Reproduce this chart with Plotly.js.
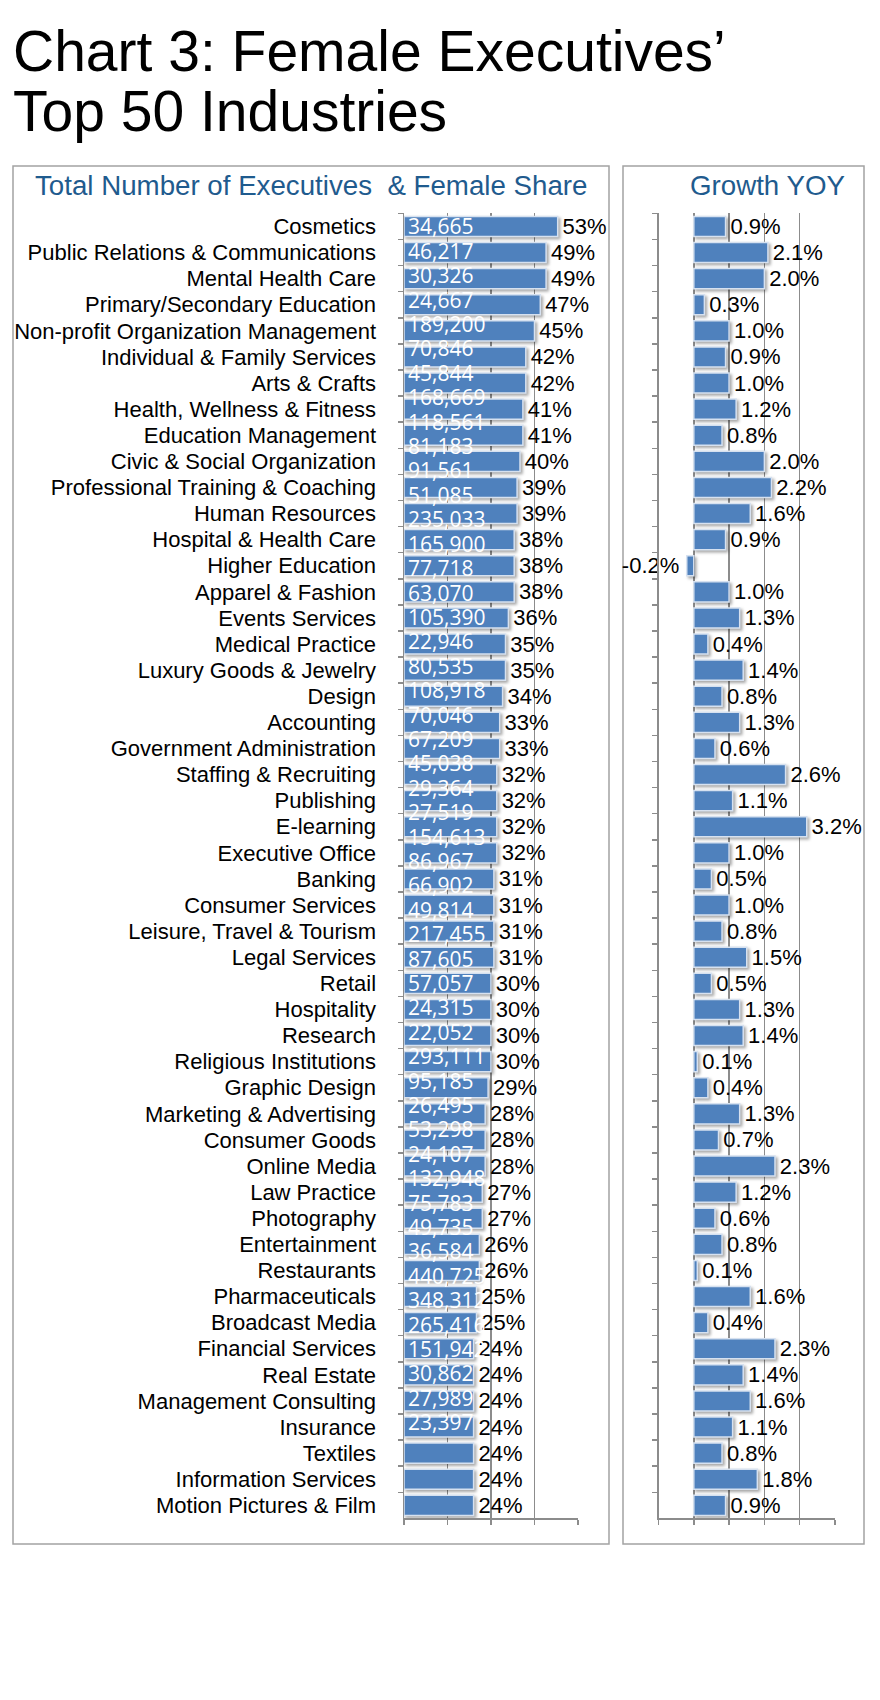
<!DOCTYPE html>
<html>
<head>
<meta charset="utf-8">
<script src="https://cdn.plot.ly/plotly-3.0.1.min.js"></script>
<style>
  html, body { margin: 0; padding: 0; background: #fff; }
  #chart { width: 880px; height: 1700px; }
  .trace.bars .point path { filter: drop-shadow(2px 2px 1.5px rgba(0,0,0,0.35)); }
</style>
</head>
<body>
<div id="chart"></div>
<script>
// ---------------- DATA ----------------
const categories = [
  "Cosmetics", "Public Relations & Communications", "Mental Health Care",
  "Primary/Secondary Education", "Non-profit Organization Management",
  "Individual & Family Services", "Arts & Crafts", "Health, Wellness & Fitness",
  "Education Management", "Civic & Social Organization",
  "Professional Training & Coaching", "Human Resources", "Hospital & Health Care",
  "Higher Education", "Apparel & Fashion", "Events Services", "Medical Practice",
  "Luxury Goods & Jewelry", "Design", "Accounting", "Government Administration",
  "Staffing & Recruiting", "Publishing", "E-learning", "Executive Office",
  "Banking", "Consumer Services", "Leisure, Travel & Tourism", "Legal Services",
  "Retail", "Hospitality", "Research", "Religious Institutions", "Graphic Design",
  "Marketing & Advertising", "Consumer Goods", "Online Media", "Law Practice",
  "Photography", "Entertainment", "Restaurants", "Pharmaceuticals",
  "Broadcast Media", "Financial Services", "Real Estate", "Management Consulting",
  "Insurance", "Textiles", "Information Services", "Motion Pictures & Film"
];

// Female share of executives (%)
const femaleShare = [
  53, 49, 49, 47, 45, 42, 42, 41, 41, 40,
  39, 39, 38, 38, 38, 36, 35, 35, 34, 33,
  33, 32, 32, 32, 32, 31, 31, 31, 31, 30,
  30, 30, 30, 29, 28, 28, 28, 27, 27, 26,
  26, 25, 25, 24, 24, 24, 24, 24, 24, 24
];

// Total number of executives (white labels, as printed in the source)
const totalExecutives = [
  34665, 46217, 30326, 24667, 189200, 70846, 45844, 168669, 118561, 81183,
  91561, 51085, 235033, 165900, 77718, 63070, 105390, 22946, 80535, 108918,
  70046, 67209, 45038, 29364, 27519, 154613, 86967, 66902, 49814, 217455,
  87605, 57057, 24315, 22052, 293111, 95185, 26495, 53298, 24107, 132948,
  75783, 49735, 36584, 440725, 348312, 265416, 151942, 30862, 27989, 23397
];

// Growth YOY (%)
const growthYOY = [
  0.9, 2.1, 2.0, 0.3, 1.0, 0.9, 1.0, 1.2, 0.8, 2.0,
  2.2, 1.6, 0.9, -0.2, 1.0, 1.3, 0.4, 1.4, 0.8, 1.3,
  0.6, 2.6, 1.1, 3.2, 1.0, 0.5, 1.0, 0.8, 1.5, 0.5,
  1.3, 1.4, 0.1, 0.4, 1.3, 0.7, 2.3, 1.2, 0.6, 0.8,
  0.1, 1.6, 0.4, 2.3, 1.4, 1.6, 1.1, 0.8, 1.8, 0.9
];

const chartTitle = ["Chart 3: Female Executives\u2019", "Top 50 Industries"];
const leftPanelTitle = "Total Number of Executives\u00A0 & Female Share";
const rightPanelTitle = "Growth YOY";

// ---------------- LAYOUT HELPERS ----------------
const W = 880, H = 1700;
const px = v => v / W;
const py = v => 1 - v / H;

const FONT = "Liberation Sans, Arial, Helvetica, sans-serif";
const NUMFONT = "Open Sans, Noto Sans, sans-serif";
const GRID = "#8c8c8c";
const BAR = "#4f81bd";
const BAR_EDGE = "#d6e1f0";
const TITLE_BLUE = "#1f5b8e";
const LABEL_SIZE = 22;

const plotTop = 213.4, plotBottom = 1518.4;
const yDomain = [py(plotBottom), py(plotTop)];

// white count labels in the source drift at a slightly tighter pitch than the rows
const labelPitch = 0.935;
const nRows = categories.length;
const y3Top = -0.5 / labelPitch;
const y3Bottom = y3Top + nRows / labelPitch;

const HAIR = "\u200A", THIN = "\u2009";

const traces = [
  {
    type: "bar", orientation: "h",
    x: femaleShare, y: categories,
    xaxis: "x", yaxis: "y",
    width: 0.77,
    marker: { color: BAR, line: { color: BAR_EDGE, width: 1.5 } },
    texttemplate: HAIR + "%{x}%", textposition: "outside",
    textfont: { family: FONT, size: LABEL_SIZE, color: "#000" },
    constraintext: "none", cliponaxis: false,
    hoverinfo: "skip"
  },
  {
    type: "bar", orientation: "h",
    x: growthYOY, y: categories,
    xaxis: "x2", yaxis: "y2",
    width: 0.77,
    marker: { color: BAR, line: { color: BAR_EDGE, width: 1.5 } },
    texttemplate: growthYOY.map(v => v < 0 ? "%{x:.1f}%" + THIN : HAIR + "%{x:.1f}%"),
    textposition: "outside",
    textfont: { family: FONT, size: LABEL_SIZE, color: "#000" },
    constraintext: "none", cliponaxis: false,
    hoverinfo: "skip"
  },
  // invisible carrier so the overlay axis y3 exists
  {
    type: "scatter", mode: "none",
    x: totalExecutives.map(() => 0),
    y: totalExecutives.map((_, i) => i),
    xaxis: "x", yaxis: "y3",
    hoverinfo: "skip"
  }
];

// white count labels placed on the overlay axis
const countAnnotations = totalExecutives.map((v, i) => ({
  text: v.toLocaleString("en-US"),
  xref: "x", yref: "y3", x: 0, y: i,
  xanchor: "left", yanchor: "middle", xshift: 2,
  showarrow: false,
  font: { family: NUMFONT, size: 21, color: "#ffffff" }
}));

const axisCommonX = {
  showgrid: true, gridcolor: GRID, gridwidth: 1.5,
  zeroline: false, showline: true, linecolor: GRID, linewidth: 1.5,
  ticks: "outside", ticklen: 5, tickcolor: GRID, tickwidth: 1.5,
  showticklabels: false, fixedrange: true
};
const axisCommonY = {
  type: "category", range: [nRows - 0.5, -0.5],
  showgrid: false, zeroline: false,
  showline: true, linecolor: GRID, linewidth: 1.5,
  ticks: "outside", tickson: "boundaries", ticklen: 5, tickcolor: GRID, tickwidth: 1.5,
  fixedrange: true
};

const layout = {
  width: W, height: H,
  margin: { l: 0, r: 0, t: 0, b: 0 },
  paper_bgcolor: "#ffffff", plot_bgcolor: "rgba(0,0,0,0)",
  showlegend: false,
  font: { family: FONT, color: "#000" },
  xaxis: Object.assign({}, axisCommonX, {
    domain: [px(404), px(578)], range: [0, 60], tick0: 0, dtick: 15, anchor: "y"
  }),
  yaxis: Object.assign({}, axisCommonY, {
    domain: yDomain, anchor: "x",
    showticklabels: true,
    tickfont: { family: FONT, size: LABEL_SIZE, color: "#000" },
    ticklabelstandoff: 22
  }),
  yaxis3: {
    overlaying: "y", anchor: "x", type: "linear",
    range: [y3Bottom, y3Top], visible: false, fixedrange: true
  },
  xaxis2: Object.assign({}, axisCommonX, {
    domain: [px(658.5), px(835)], range: [-1, 4], tick0: 0, dtick: 1, anchor: "y2"
  }),
  yaxis2: Object.assign({}, axisCommonY, {
    domain: yDomain, anchor: "x2", showticklabels: false
  }),
  shapes: [
    { type: "rect", xref: "paper", yref: "paper",
      x0: px(13), x1: px(609), y0: py(1544), y1: py(166),
      line: { color: "#a3a3a3", width: 1.5 }, fillcolor: "rgba(0,0,0,0)", layer: "below" },
    { type: "rect", xref: "paper", yref: "paper",
      x0: px(623), x1: px(864), y0: py(1544), y1: py(166),
      line: { color: "#a3a3a3", width: 1.5 }, fillcolor: "rgba(0,0,0,0)", layer: "below" }
  ],
  annotations: [
    { text: chartTitle[0], xref: "paper", yref: "paper", x: px(11), y: py(51),
      xanchor: "left", yanchor: "middle", showarrow: false,
      font: { family: FONT, size: 57, color: "#000" } },
    { text: chartTitle[1], xref: "paper", yref: "paper", x: px(11), y: py(111),
      xanchor: "left", yanchor: "middle", showarrow: false,
      font: { family: FONT, size: 57, color: "#000" } },
    { text: leftPanelTitle, xref: "paper", yref: "paper", x: px(311), y: py(186),
      xanchor: "center", yanchor: "middle", showarrow: false,
      font: { family: FONT, size: 27.7, color: TITLE_BLUE } },
    { text: rightPanelTitle, xref: "paper", yref: "paper", x: px(767), y: py(186),
      xanchor: "center", yanchor: "middle", showarrow: false,
      font: { family: FONT, size: 27.7, color: TITLE_BLUE } }
  ].concat(countAnnotations)
};

Plotly.newPlot("chart", traces, layout, { staticPlot: true, displayModeBar: false });
</script>
</body>
</html>
